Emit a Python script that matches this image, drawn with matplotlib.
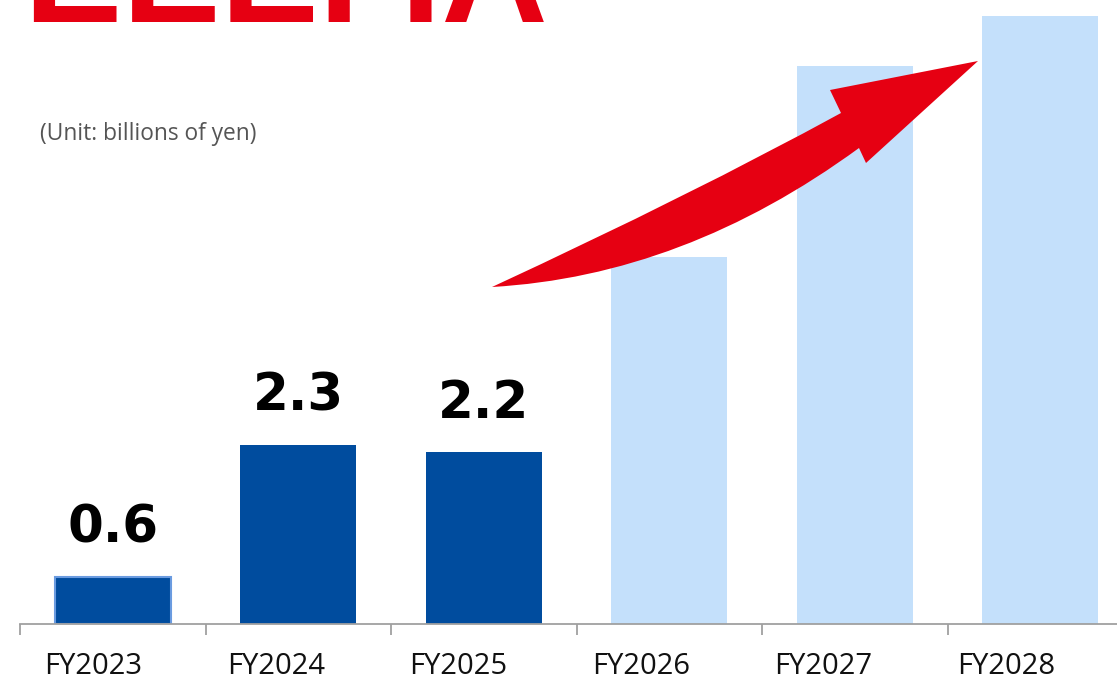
import matplotlib.pyplot as plt
from matplotlib.path import Path
from matplotlib.patches import PathPatch

# data
years = ['FY2023', 'FY2024', 'FY2025', 'FY2026', 'FY2027', 'FY2028']
values = [0.6, 2.3, 2.2, 4.7, 7.15, 7.8]
labels = ['0.6', '2.3', '2.2', None, None, None]
actual = [True, True, True, False, False, False]

DARK = '#004C9E'
LIGHT = '#C4E0FB'
RED = '#E60012'

W, H = 1117, 681
fig = plt.figure(figsize=(W / 100, H / 100), dpi=100)
fig.patch.set_facecolor('white')

# axis spans 6 categories of ~185.5 px each, running past the right edge
ax = fig.add_axes([20 / W, 57 / H, 6 * 185.5 / W, 624 / H])
ax.set_facecolor('none')

x = list(range(len(years)))
colors = [DARK if a else LIGHT for a in actual]
bars = ax.bar(x, values, width=0.625, color=colors, zorder=2)
bars[0].set_edgecolor('#6A9BE0')
bars[0].set_linewidth(1.5)

for xi, v, lab in zip(x, values, labels):
    if lab:
        ax.text(xi, v + 0.3, lab, ha='center', va='bottom', fontsize=37,
                fontweight='bold', color='black', family='DejaVu Sans')

ax.set_xlim(-0.5, 5.5)
ax.set_ylim(0, 8)
ax.set_yticks([])
for s in ['top', 'right', 'left']:
    ax.spines[s].set_visible(False)
ax.spines['bottom'].set_color('#A0A0A0')
ax.spines['bottom'].set_linewidth(1.3)

ax.set_xticks([i - 0.5 for i in range(len(years) + 1)])
ax.set_xticklabels([])
ax.tick_params(axis='x', length=8, width=1.3, color='#A0A0A0')

# category labels sit a little left of the bar centres in the original
for i, yr in enumerate(years):
    ax.text(i * 0.984 - 0.105, -28 / 624, yr, transform=ax.get_xaxis_transform(),
            ha='center', va='top', fontsize=21, family='Open Sans',
            color='#111111', clip_on=False)

# unit note
fig.text(40 / W, 1 - 134 / H, '(Unit: billions of yen)', fontsize=16.4,
         family='Open Sans', color='#555555', va='center', ha='left')

# clipped red heading at the very top
fig.text(24 / W, 1 - 22 / H, 'EEEI IA', fontsize=106, fontweight='bold',
         color=RED, va='baseline', ha='left', family='Liberation Sans')


# growth arrow (figure pixel coords, y from top)
def fp(px, py):
    return (px / W, 1 - py / H)


verts = [fp(492, 287), fp(693, 194), fp(841, 113), fp(830, 90), fp(978, 61),
         fp(866, 163), fp(859, 148), fp(684, 276), fp(492, 287), fp(492, 287)]
codes = [Path.MOVETO, Path.CURVE3, Path.CURVE3, Path.LINETO, Path.LINETO,
         Path.LINETO, Path.LINETO, Path.CURVE3, Path.CURVE3, Path.CLOSEPOLY]
arrow = PathPatch(Path(verts, codes), facecolor=RED, edgecolor='none',
                  transform=fig.transFigure, zorder=5)
fig.patches.append(arrow)

fig.savefig('out.png', dpi=100)
